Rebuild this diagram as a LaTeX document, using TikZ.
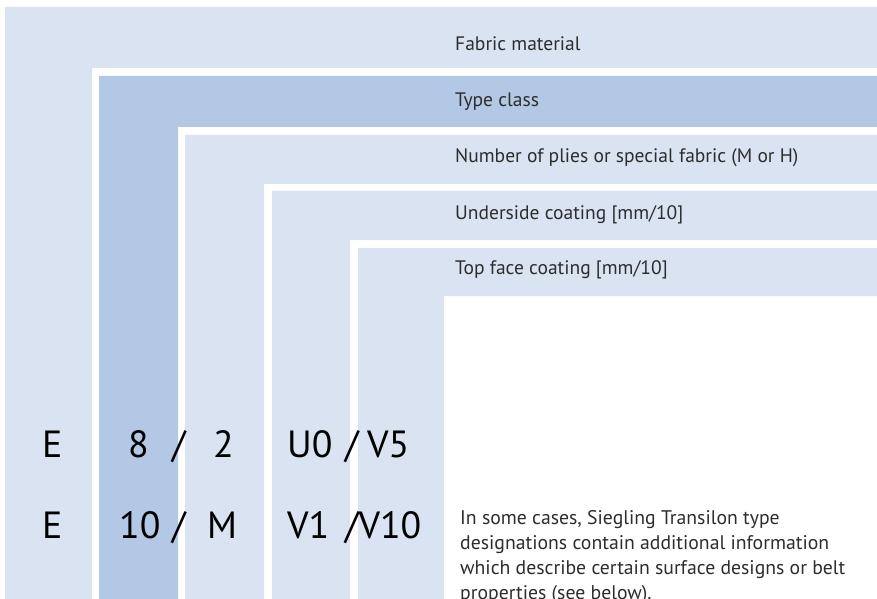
\documentclass[tikz,border=0pt]{standalone}
\usepackage{fontspec}
\setmainfont{PT Sans}
\usepackage{tikz}
\usetikzlibrary{positioning}

\definecolor{bandlight}{RGB}{218,227,241}
\definecolor{banddark}{RGB}{179,200,228}
\definecolor{captiontext}{RGB}{45,45,45}

\tikzset{
  bandlt/.style={fill=bandlight,draw=none},
  banddk/.style={fill=banddark,draw=none},
  caption/.style={anchor=base west,inner sep=0pt,text=captiontext,font=\fontsize{19.6}{22}\selectfont},
  code/.style={anchor=base west,inner sep=0pt,text=black,font=\fontsize{38}{44}\selectfont},
  remark/.style={anchor=base west,inner sep=0pt,align=left,text=captiontext,font=\fontsize{19.8}{25}\selectfont},
}

\begin{document}
\begin{tikzpicture}[x=1bp,y=-1bp]
\useasboundingbox (0,0) rectangle (877,599);
\clip (0,0) rectangle (877,599);
%% bands
\fill [bandlt] (5,7) -- (877,7) -- (877,68) -- (92,68) -- (92,600) -- (5,600) -- cycle;
\fill [banddk] (99,76) -- (877,76) -- (877,127) -- (178,127) -- (178,600) -- (99,600) -- cycle;
\fill [bandlt] (185,135) -- (877,135) -- (877,184) -- (264,184) -- (264,600) -- (185,600) -- cycle;
\fill [bandlt] (272,191) -- (877,191) -- (877,240) -- (350,240) -- (350,600) -- (272,600) -- cycle;
\fill [bandlt] (358,248) -- (877,248) -- (877,296) -- (444,296) -- (444,600) -- (358,600) -- cycle;
%% captions
\node (cap_fabric) at (455,51) [caption] {Fabric material};
\node (cap_type) at (455,107) [caption] {Type class};
\node (cap_plies) at (455,163) [caption] {Number of plies or special fabric (M or H)};
\node (cap_under) at (455,220) [caption] {Underside coating [mm/10]};
\node (cap_top) at (455,274) [caption] {Top face coating [mm/10]};
%% first designation
\node (row1_fabric) at (42,457) [code] {E};
\node (row1_type) at (128,457) [code] {8};
\node (row1_sep) at (172,457) [code] {/};
\node (row1_plies) at (213,457) [code] {2};
\node (row1_under) at (287,457) [code] {U0};
\node (row1_slash) at (345,457) [code] {/};
\node (row1_top) at (367,457) [code] {V5};
%% second designation
\node (row2_fabric) at (42,538) [code] {E};
\node (row2_type) at (119,538) [code] {10};
\node (row2_sep) at (172,538) [code] {/};
\node (row2_plies) at (207,538) [code] {M};
\node (row2_under) at (287,538) [code] {V1};
\node (row2_top) at (345,538) [code] {/V10};
%% remark (base is the last line)
\node (remark) at (460,599) [remark] {In some cases, Siegling Transilon type\\designations contain additional information\\which describe certain surface designs or belt\\properties (see below).};
%
\end{tikzpicture}
\end{document}
